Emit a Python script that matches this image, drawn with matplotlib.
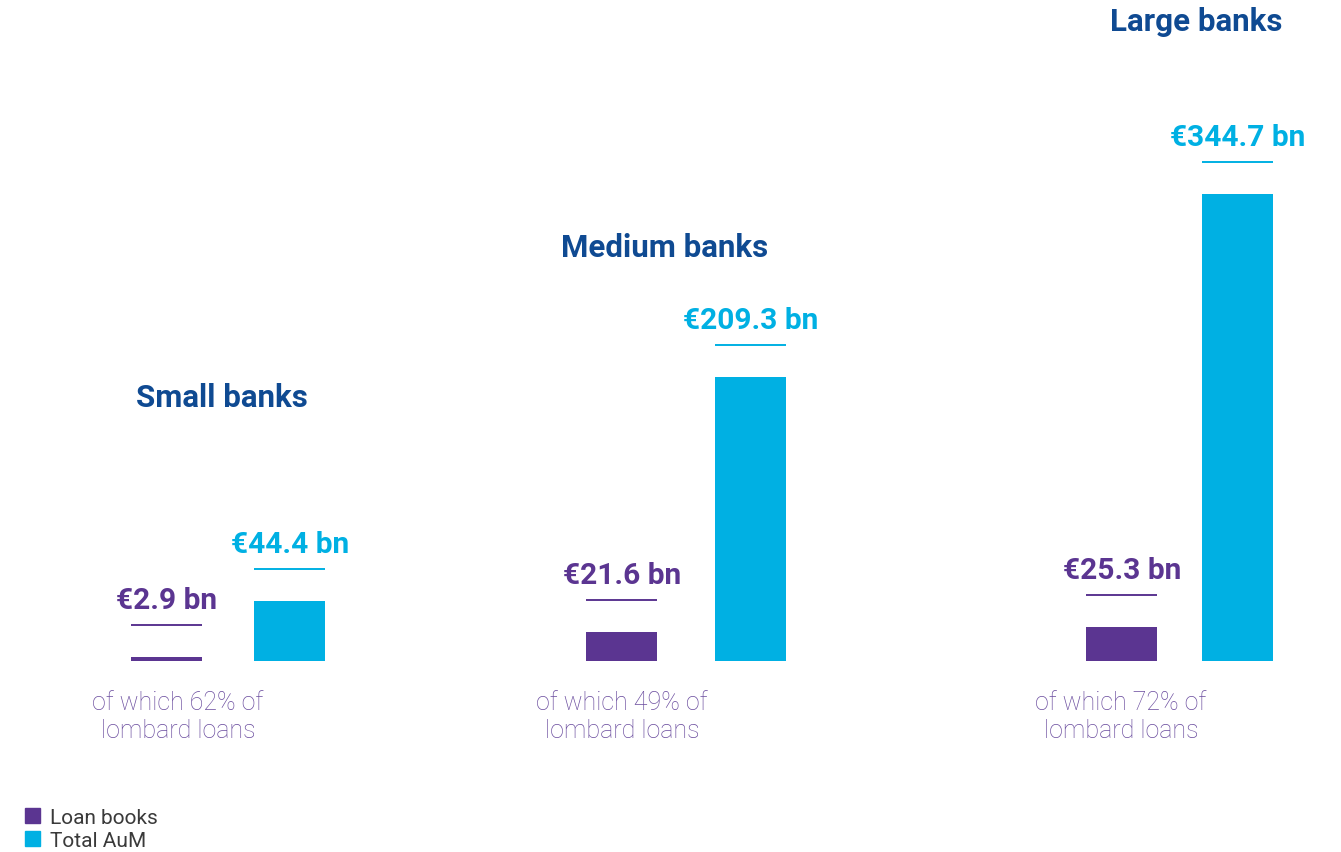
import matplotlib as mpl
import matplotlib.pyplot as plt
import matplotlib.transforms as mtransforms
from matplotlib.patches import Patch

mpl.rcParams['font.family'] = ['Roboto', 'DejaVu Sans']

# data
groups = ["Small banks", "Medium banks", "Large banks"]
loan_books = [2.9, 21.6, 25.3]
total_aum = [44.4, 209.3, 344.7]
lombard_share = [62, 49, 72]
series_names = ["Loan books", "Total AuM"]

# colours
PURPLE = "#5B3591"
CYAN = "#00B0E3"
NAVY = "#0F4A92"
NOTE = "#6A4C9E"

# layout (pixels, figure is 1341 x 853 at dpi 100)
W, H = 1341, 853
baseline = 662
px_per_bn = 1.355
loan_x = [167, 622, 1122]
aum_x = [290, 751, 1238]
note_x = [178, 622, 1121]
bar_w = 71
title_pos = [(222, 398), (665, 248), (1196, 22)]

fig = plt.figure(figsize=(W / 100, H / 100), dpi=100)
ax = fig.add_axes([0, (H - baseline) / H, 1, baseline / H])
ax.set_xlim(0, W)
ax.set_ylim(0, baseline / px_per_bn)
ax.axis("off")

ax.bar(loan_x, loan_books, width=bar_w, color=PURPLE)
ax.bar(aum_x, total_aum, width=bar_w, color=CYAN)

# thin rule 32px above each bar, value 25px above the rule
rule_tr = ax.transData + mtransforms.ScaledTranslation(0, 0.32, fig.dpi_scale_trans)
for xs, vals, col in [(loan_x, loan_books, PURPLE), (aum_x, total_aum, CYAN)]:
    for x, v in zip(xs, vals):
        ax.plot([x - bar_w / 2, x + bar_w / 2], [v, v], color=col, lw=1.4,
                transform=rule_tr, solid_capstyle="butt", clip_on=False)
        ax.annotate(f"€{v} bn", xy=(x, v), xytext=(0, 57 * 0.72),
                    textcoords="offset points", ha="center", va="center",
                    fontsize=21.5, fontweight="bold", color=col, annotation_clip=False)

for x, share in zip(note_x, lombard_share):
    ax.annotate(f"of which {share}% of\nlombard loans", xy=(x, 0), xytext=(0, -21),
                textcoords="offset points", ha="center", va="top",
                fontsize=18, fontweight="light", color=NOTE, linespacing=1.22,
                annotation_clip=False)

for name, (tx, ty) in zip(groups, title_pos):
    fig.text(tx / W, 1 - ty / H, name, ha="center", va="center",
             fontsize=22.5, fontweight="bold", color=NAVY)

handles = [Patch(color=PURPLE), Patch(color=CYAN)]
fig.legend(handles, series_names, loc="lower left",
           bbox_to_anchor=(25 / W, 2 / H), frameon=False, fontsize=15,
           handlelength=0.72, handleheight=0.72, handletextpad=0.5,
           labelspacing=0.2, borderpad=0, borderaxespad=0, labelcolor="#3A3A3A")

fig.savefig("out.png", dpi=100)
